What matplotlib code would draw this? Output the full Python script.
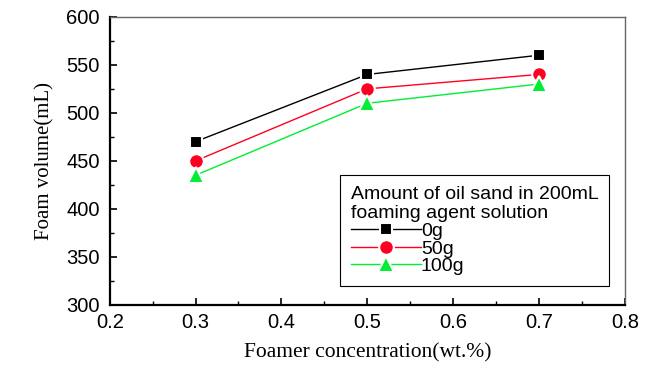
import matplotlib
matplotlib.use("Agg")
import matplotlib.pyplot as plt
from matplotlib.ticker import MultipleLocator

# data
conc = [0.3, 0.5, 0.7]
vol_0g = [470, 540, 560]
vol_50g = [450, 525, 540]
vol_100g = [435, 510, 530]
labels = ["0g", "50g", "100g"]
colors = ["black", "#ff0022", "#00ee33"]
markers = ["s", "o", "^"]
msizes = [9, 10.5, 12]

fig = plt.figure(figsize=(6.57, 3.66), dpi=100)
ax = fig.add_axes([0.167, 0.167, 0.784, 0.787])

for y, lab, c, m, ms in zip([vol_0g, vol_50g, vol_100g], labels, colors, markers, msizes):
    ax.plot(conc, y, color=c, lw=1.0, marker=m, markersize=ms,
            markerfacecolor=c, markeredgecolor="white", markeredgewidth=1.5, label=lab)

ax.set_xlim(0.2, 0.8)
ax.set_ylim(300, 600)
ax.xaxis.set_major_locator(MultipleLocator(0.1))
ax.xaxis.set_minor_locator(MultipleLocator(0.05))
ax.yaxis.set_major_locator(MultipleLocator(50))
ax.yaxis.set_minor_locator(MultipleLocator(25))
ax.tick_params(which="both", direction="in", top=False, right=False)
ax.tick_params(which="major", length=5, width=1.2, labelsize=14.5)
ax.tick_params(axis="y", which="major", pad=7)
ax.tick_params(axis="x", which="major", pad=6)
ax.tick_params(which="minor", length=3, width=1.0)
for lbl in ax.get_xticklabels() + ax.get_yticklabels():
    lbl.set_family("Liberation Sans")

ax.spines["left"].set_linewidth(1.6)
ax.spines["bottom"].set_linewidth(1.6)
ax.spines["top"].set_color("#666666")
ax.spines["right"].set_color("#666666")
ax.spines["top"].set_linewidth(1.0)
ax.spines["right"].set_linewidth(1.0)

ax.set_xlabel("Foamer concentration(wt.%)", family="Liberation Serif", fontsize=15.5, labelpad=8)
ax.set_ylabel("Foam volume(mL)", family="Liberation Serif", fontsize=15, labelpad=9)

leg = ax.legend(title="Amount of oil sand in 200mL\nfoaming agent solution",
                loc="lower right", bbox_to_anchor=(0.97, 0.066), borderaxespad=0,
                fancybox=False, edgecolor="black", framealpha=1,
                handlelength=3.6, handletextpad=0.0,
                labelspacing=0.0, borderpad=0.55,
                prop={"family": "Liberation Sans", "size": 14},
                title_fontproperties={"family": "Liberation Sans", "size": 14})
leg._legend_box.align = "left"
leg.get_frame().set_linewidth(0.8)

fig.savefig("out.png", dpi=100)
